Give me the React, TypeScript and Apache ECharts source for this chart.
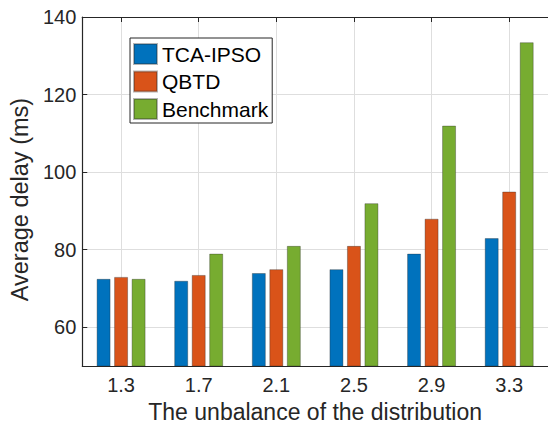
import React, { useEffect, useRef } from "react";
import * as echarts from "echarts";

const xValues = [1.3, 1.7, 2.1, 2.5, 2.9, 3.3];
const tcaIpso = [72.5, 72, 74, 75, 79, 83];
const qbtd = [73, 73.5, 75, 81, 88, 95];
const benchmark = [72.5, 79, 81, 92, 112, 133.5];
const yTickValues = [60, 80, 100, 120, 140];
const seriesNames = ["TCA-IPSO", "QBTD", "Benchmark"];
const seriesColors = ["#0072BD", "#D95319", "#77AC30"];

const FONT = '"Liberation Sans", Arial, Helvetica, sans-serif';
const AXIS_COLOR = "#262626";

export default function App() {
  const ref = useRef<HTMLDivElement>(null);
  useEffect(() => {
    if (!ref.current) return;
    const chart = echarts.init(ref.current, undefined, { renderer: "svg" });
    const allSeries = [tcaIpso, qbtd, benchmark];
    chart.setOption({
      animation: false,
      backgroundColor: "#fff",
      textStyle: { fontFamily: FONT },
      grid: { left: 78, top: 17, right: -8, bottom: 56, containLabel: false },
      legend: {
        orient: "vertical",
        left: 130,
        top: 38,
        itemWidth: 23,
        itemHeight: 20,
        itemGap: 5.5,
        padding: [5, 4, 3, 3],
        borderColor: AXIS_COLOR,
        borderWidth: 1,
        borderRadius: 0,
        backgroundColor: "#fff",
        icon: "rect",
        data: seriesNames,
        textStyle: { fontSize: 21, color: "#000", fontFamily: FONT, lineHeight: 20 },
      },
      xAxis: [
        {
          type: "value",
          min: 1.1,
          max: 3.5,
          position: "bottom",
          name: "The unbalance of the distribution",
          nameLocation: "middle",
          nameGap: 29,
          nameTextStyle: { fontSize: 23, color: AXIS_COLOR, fontFamily: FONT },
          axisLine: { show: true, lineStyle: { color: AXIS_COLOR, width: 1.2 } },
          axisTick: { show: true, inside: true, length: 5, customValues: xValues, lineStyle: { color: AXIS_COLOR } },
          axisLabel: {
            customValues: xValues,
            fontSize: 20,
            color: AXIS_COLOR,
            margin: 9,
            fontFamily: FONT,
            formatter: (v: number) => v.toFixed(1),
          },
          splitLine: { show: true, lineStyle: { color: "#dedede", width: 1 } },
        },
        {
          type: "value",
          min: 1.1,
          max: 3.5,
          position: "top",
          axisLine: { show: true, lineStyle: { color: AXIS_COLOR, width: 1.2 } },
          axisTick: { show: true, inside: true, length: 5, customValues: xValues, lineStyle: { color: AXIS_COLOR } },
          axisLabel: { show: false, customValues: xValues },
          splitLine: { show: false },
        },
      ],
      yAxis: {
        type: "value",
        min: 50,
        max: 140,
        name: "Average delay (ms)",
        nameLocation: "middle",
        nameGap: 48,
        nameTextStyle: { fontSize: 23.5, color: AXIS_COLOR, fontFamily: FONT, padding: [0, 16, 0, 0] },
        axisLine: { show: true, lineStyle: { color: AXIS_COLOR, width: 1.2 } },
        axisTick: { show: true, inside: true, length: 5, customValues: yTickValues, lineStyle: { color: AXIS_COLOR } },
        axisLabel: { customValues: yTickValues, fontSize: 20, color: AXIS_COLOR, margin: 6, fontFamily: FONT },
        splitLine: { show: true, lineStyle: { color: "#dedede", width: 1 } },
      },
      series: allSeries.map((vals, i) => ({
        name: seriesNames[i],
        type: "bar",
        xAxisIndex: 0,
        yAxisIndex: 0,
        barWidth: 14,
        barGap: "25%",
        data: xValues.map((x, j) => [x, vals[j]]),
        itemStyle: {
          color: seriesColors[i],
          borderColor: "rgba(40,40,40,0.35)",
          borderWidth: 1,
        },
      })),
    });
    return () => chart.dispose();
  }, []);
  return (
    <div
      ref={ref}
      style={{ position: "fixed", left: 0, top: 0, width: 548, height: 428 }}
    />
  );
}
